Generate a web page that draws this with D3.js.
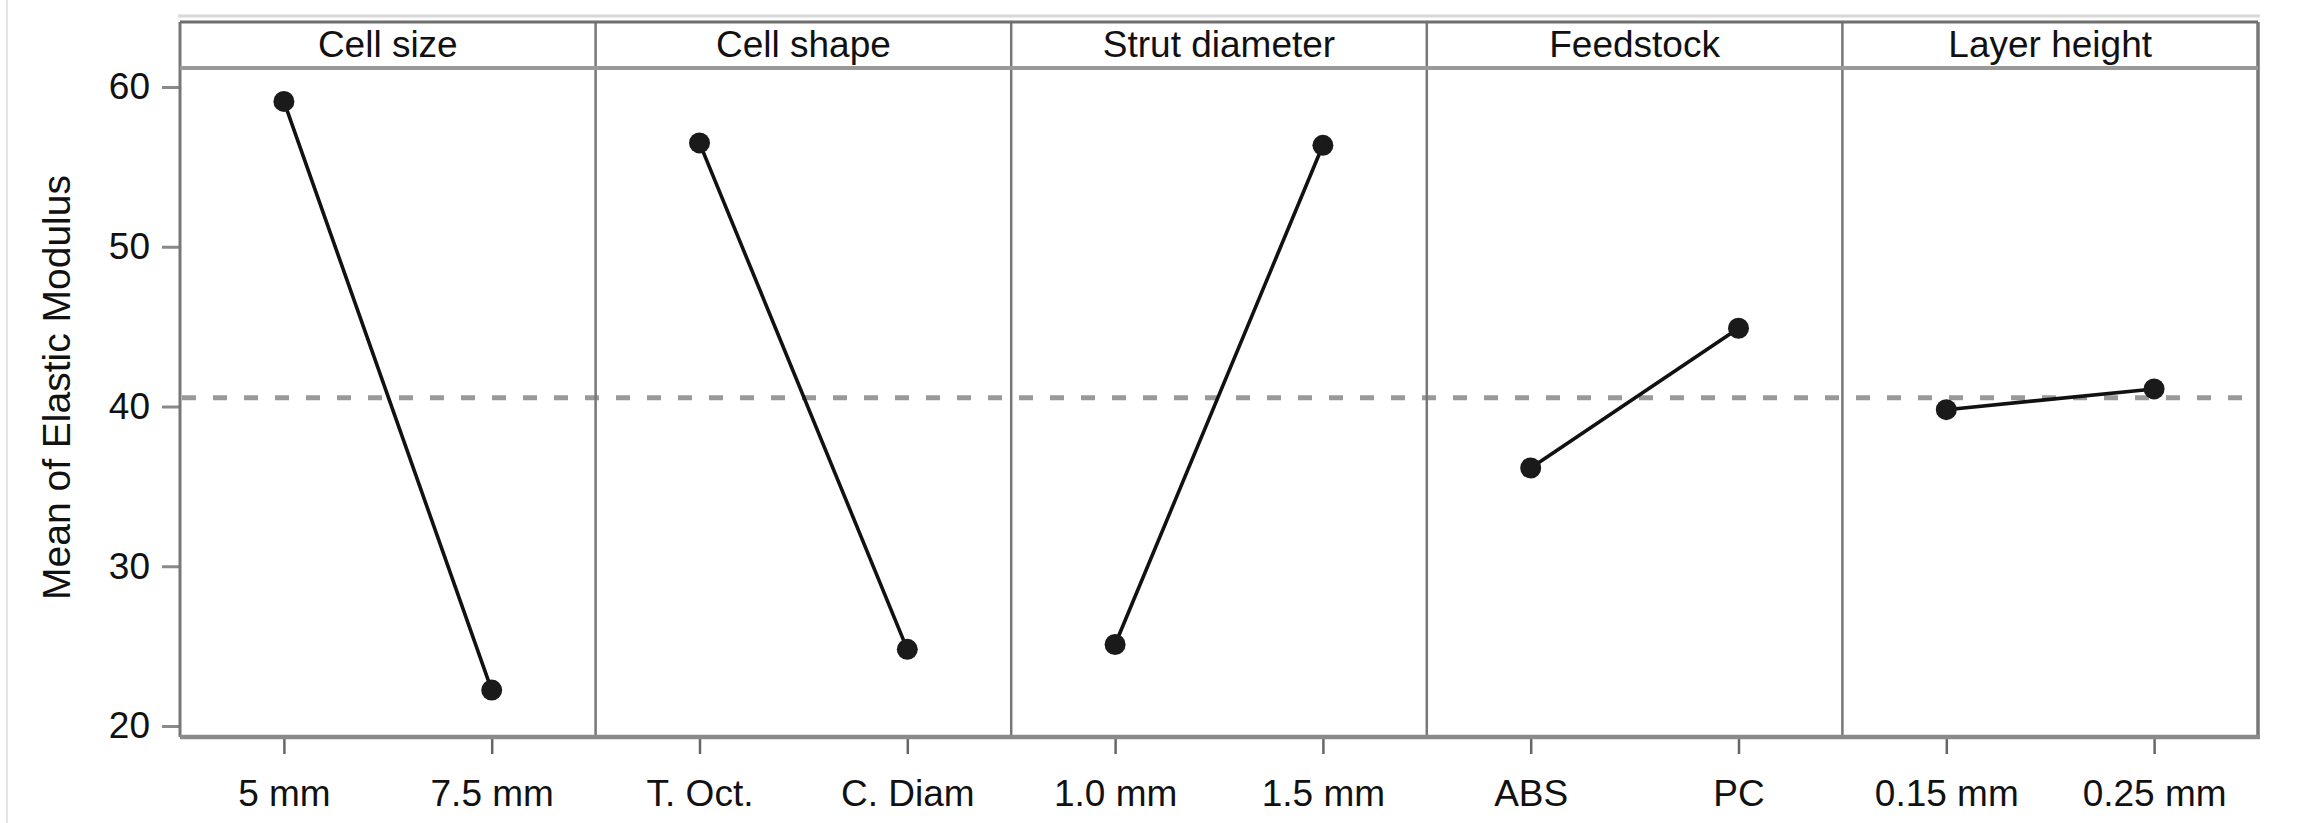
<!DOCTYPE html>
<html>
<head>
<meta charset="utf-8">
<script src="https://cdn.jsdelivr.net/npm/d3@7/dist/d3.min.js"></script>
<style>
  html, body { margin: 0; padding: 0; background: #fff; }
  svg { display: block; }
  text { font-family: "Liberation Sans", Arial, sans-serif; fill: #111; }
</style>
</head>
<body>
<svg id="chart" width="2309" height="823"></svg>
<script>
// ---- data ----
const factors = ["Cell size", "Cell shape", "Strut diameter", "Feedstock", "Layer height"];
const levels = [
  ["5 mm", "7.5 mm"],
  ["T. Oct.", "C. Diam"],
  ["1.0 mm", "1.5 mm"],
  ["ABS", "PC"],
  ["0.15 mm", "0.25 mm"]
];
const means = [
  [59.1, 22.25],
  [56.5, 24.8],
  [25.1, 56.35],
  [36.15, 44.9],
  [39.8, 41.1]
];
const grandMean = 40.55;
const yTicks = [20, 30, 40, 50, 60];
const yLabel = "Mean of Elastic Modulus";

// ---- layout ----
const W = 2309, H = 823;
const left = 180, right = 2258;
const stripTop = 22, stripBottom = 68, plotBottom = 737;
const fontSize = 37;

const svg = d3.select("#chart");

// faint image border at far left
svg.append("line").attr("x1", 7).attr("x2", 7).attr("y1", 0).attr("y2", H)
  .attr("stroke", "#e4e4e4").attr("stroke-width", 2);

const y = d3.scaleLinear().domain([20, 60]).range([726, 87]);

const panel = d3.scaleBand().domain(factors).range([left, right]).padding(0);

// dashed grand mean line
svg.append("line")
  .attr("x1", left + 2).attr("x2", right - 2)
  .attr("y1", y(grandMean)).attr("y2", y(grandMean))
  .attr("stroke", "#999").attr("stroke-width", 5)
  .attr("stroke-dasharray", "14 17");

// y axis
const yAxis = d3.axisLeft(y).tickValues(yTicks).tickSize(18).tickPadding(12);
const yg = svg.append("g").attr("transform", `translate(${left},0)`).call(yAxis);
yg.select(".domain").remove();
yg.selectAll(".tick line").attr("stroke", "#8a8a8a").attr("stroke-width", 3);
yg.selectAll(".tick text").style("font-size", fontSize + "px").attr("fill", "#111")
  .style("font-family", "'Liberation Sans', Arial, sans-serif");

// y label
svg.append("text")
  .attr("transform", `translate(70, ${(stripBottom + plotBottom) / 2 - 15}) rotate(-90)`)
  .attr("text-anchor", "middle")
  .style("font-size", "39px")
  .text(yLabel);

// panels
factors.forEach((f, i) => {
  const x0 = panel(f), x1 = x0 + panel.bandwidth();
  const x = d3.scalePoint().domain(levels[i]).range([x0, x1]).padding(0.5);

  // strip title
  svg.append("text")
    .attr("x", (x0 + x1) / 2).attr("y", 57)
    .attr("text-anchor", "middle")
    .style("font-size", fontSize + "px")
    .text(f);

  // x axis ticks and labels
  const xAxis = d3.axisBottom(x).tickSize(15).tickPadding(26);
  const xg = svg.append("g").attr("transform", `translate(0,${plotBottom + 2})`).call(xAxis);
  xg.select(".domain").remove();
  xg.selectAll(".tick line").attr("stroke", "#666").attr("stroke-width", 2.5);
  xg.selectAll(".tick text").style("font-size", fontSize + "px").attr("fill", "#111")
    .style("font-family", "'Liberation Sans', Arial, sans-serif");

  // line
  const pts = levels[i].map((l, j) => [x(l), y(means[i][j])]);
  svg.append("path")
    .attr("d", d3.line()(pts))
    .attr("fill", "none").attr("stroke", "#111").attr("stroke-width", 3.6);
  svg.selectAll(null).data(pts).enter().append("circle")
    .attr("cx", d => d[0]).attr("cy", d => d[1]).attr("r", 10.5)
    .attr("fill", "#1a1a1a");

  // divider
  if (i > 0) {
    svg.append("line").attr("x1", x0).attr("x2", x0).attr("y1", stripTop).attr("y2", plotBottom)
      .attr("stroke", "#777").attr("stroke-width", 2.5);
  }
});

// frame
svg.append("line").attr("x1", left - 2).attr("x2", right + 2).attr("y1", 16).attr("y2", 16)
  .attr("stroke", "#d8d8d8").attr("stroke-width", 3);
svg.append("line").attr("x1", left).attr("x2", left).attr("y1", stripTop).attr("y2", plotBottom)
  .attr("stroke", "#777").attr("stroke-width", 3);
svg.append("line").attr("x1", right).attr("x2", right).attr("y1", stripTop).attr("y2", plotBottom)
  .attr("stroke", "#777").attr("stroke-width", 3.5);
svg.append("line").attr("x1", left).attr("x2", right).attr("y1", stripTop).attr("y2", stripTop)
  .attr("stroke", "#6f6f6f").attr("stroke-width", 3);
svg.append("line").attr("x1", left).attr("x2", right).attr("y1", stripBottom).attr("y2", stripBottom)
  .attr("stroke", "#999").attr("stroke-width", 4);
svg.append("line").attr("x1", left).attr("x2", right + 2).attr("y1", plotBottom).attr("y2", plotBottom)
  .attr("stroke", "#8a8a8a").attr("stroke-width", 4.5);
</script>
</body>
</html>
